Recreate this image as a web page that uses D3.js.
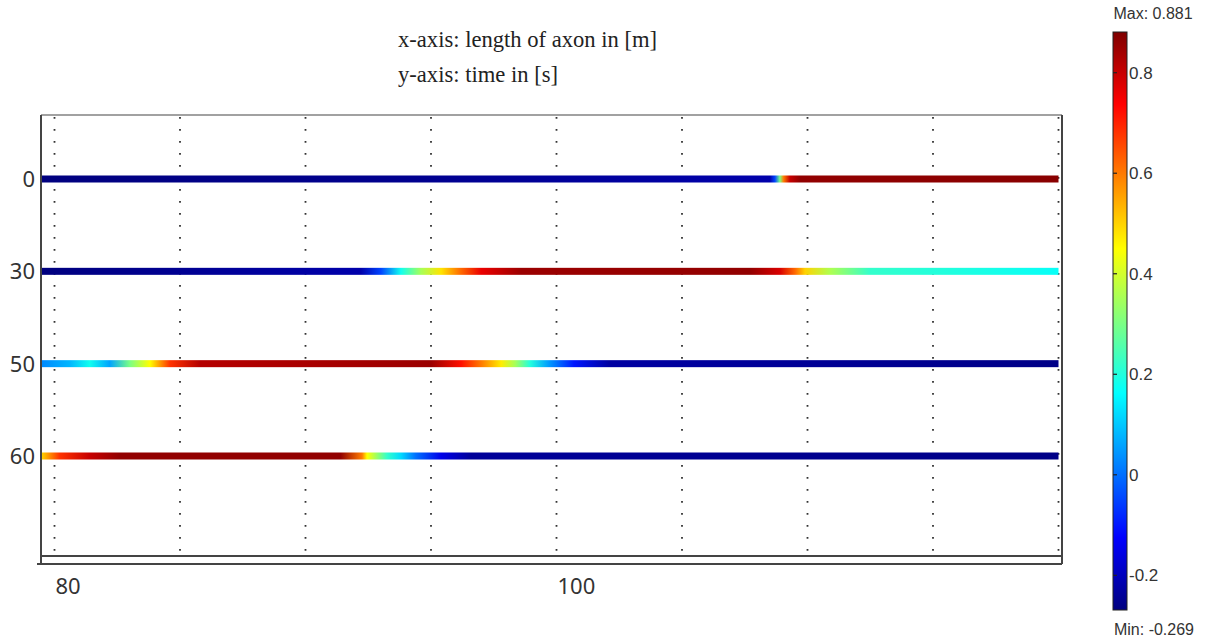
<!DOCTYPE html>
<html>
<head>
<meta charset="utf-8">
<script src="https://cdn.jsdelivr.net/npm/d3@7"></script>
<style>
  body { margin: 0; background: #fff; }
  svg { display: block; }
</style>
</head>
<body>
<div id="vis1"></div>
<script>
// data
const TIMES = [0, 30, 50, 60];
const X_TICKS = [80, 100];
const GRID_X = [80, 85, 90, 95, 100, 105, 110, 115, 120];
const CB_TICKS = [0.8, 0.6, 0.4, 0.2, 0, -0.2];
const V_MIN = -0.269;
const V_MAX = 0.881;
const TITLE_LINES = ["x-axis: length of axon in [m]", "y-axis: time in [s]"];

// [position along axon, value]
const ROW_T0 = [[79.5,-0.27],[95,-0.25],[108.5,-0.22],[108.7,-0.05],[108.9,0.3],[109.05,0.6],[109.3,0.8],[109.7,0.86],[120,0.87]];
const ROW_T30 = [[79.5,-0.27],[92.2,-0.22],[93.0,-0.05],[93.8,0.18],[94.6,0.35],[95.4,0.48],[96.2,0.62],[97.0,0.76],
                 [98.6,0.85],[107.7,0.86],[108.9,0.78],[109.5,0.62],[109.9,0.5],[110.9,0.36],[112.5,0.22],[120,0.17]];
const ROW_T50 = [[79.5,0.03],[80.6,0.08],[81.4,0.18],[82.2,0.06],[83.0,0.3],[83.8,0.45],[84.6,0.68],[85.8,0.82],
                 [95.0,0.85],[96.2,0.72],[97.0,0.6],[97.8,0.47],[98.35,0.35],[98.95,0.2],[99.7,0.05],[100.7,-0.1],
                 [102.1,-0.23],[120,-0.26]];
const ROW_T60 = [[79.5,0.5],[80.2,0.68],[81.4,0.8],[82.6,0.86],[91.4,0.86],[92.25,0.6],[92.45,0.45],[93.25,0.22],
                 [93.8,0.12],[94.4,0.0],[95.4,-0.15],[96.6,-0.24],[120,-0.26]];
const ROWS = [ROW_T0, ROW_T30, ROW_T50, ROW_T60];

const FRAME_WIDTH = 1205;
const FRAME_HEIGHT = 641;
const PLOT = {left: 41, right: 1062, top: 115, axis: 556, bottom: 564};

const FRAME1 = d3.select("#vis1")
                  .append("svg")
                    .attr("width", FRAME_WIDTH)
                    .attr("height", FRAME_HEIGHT);

// jet colour map over the value range
const jet = d3.scaleLinear()
  .domain([0, 0.125, 0.375, 0.625, 0.875, 1])
  .range(["#00007f", "#0000ff", "#00ffff", "#ffff00", "#ff0000", "#7f0000"])
  .clamp(true);
const color = v => jet((v - V_MIN) / (V_MAX - V_MIN));

const x_scale = d3.scaleLinear()
  .domain([80, 120])
  .range([54.5, 1058.5]);

const y_scale = d3.scalePoint()
  .domain(TIMES)
  .range([PLOT.top + 64, PLOT.axis - 100]);

// title
FRAME1.append("g")
  .selectAll("text")
  .data(TITLE_LINES)
  .join("text")
    .attr("x", 398)
    .attr("y", (d, i) => 47 + i * 35)
    .attr("font-family", "'Liberation Serif', 'Times New Roman', serif")
    .attr("font-size", 22.6)
    .attr("fill", "#222")
    .text(d => d);

// dotted vertical grid
FRAME1.append("g")
  .selectAll("line")
  .data(GRID_X)
  .join("line")
    .attr("x1", d => x_scale(d))
    .attr("x2", d => x_scale(d))
    .attr("y1", PLOT.top + 2)
    .attr("y2", PLOT.axis - 2)
    .attr("stroke", "#333")
    .attr("stroke-width", 1.8)
    .attr("stroke-dasharray", "1.8,10.2");

// gradients for each row
const defs = FRAME1.append("defs");
ROWS.forEach((row, i) => {
  const g = defs.append("linearGradient")
    .attr("id", "row" + i)
    .attr("gradientUnits", "userSpaceOnUse")
    .attr("x1", x_scale(row[0][0]))
    .attr("x2", x_scale(row[row.length - 1][0]))
    .attr("y1", 0).attr("y2", 0);
  const span = row[row.length - 1][0] - row[0][0];
  g.selectAll("stop")
    .data(row)
    .join("stop")
      .attr("offset", d => (d[0] - row[0][0]) / span)
      .attr("stop-color", d => color(d[1]));
});

FRAME1.append("g")
  .selectAll("rect")
  .data(ROWS)
  .join("rect")
    .attr("x", d => x_scale(d[0][0]))
    .attr("width", d => x_scale(d[d.length - 1][0]) - x_scale(d[0][0]))
    .attr("y", (d, i) => y_scale(TIMES[i]) - 3.5)
    .attr("height", 7)
    .attr("fill", (d, i) => `url(#row${i})`);

// frame
const frame = FRAME1.append("g").attr("fill", "none").attr("stroke", "#444");
frame.append("line").attr("x1", PLOT.left).attr("x2", PLOT.right).attr("y1", PLOT.top).attr("y2", PLOT.top).attr("stroke-width", 1.2);
frame.append("line").attr("x1", PLOT.left).attr("x2", PLOT.left).attr("y1", PLOT.top).attr("y2", PLOT.bottom).attr("stroke-width", 2);
frame.append("line").attr("x1", PLOT.right).attr("x2", PLOT.right).attr("y1", PLOT.top).attr("y2", PLOT.bottom).attr("stroke-width", 2);
frame.append("line").attr("x1", PLOT.left).attr("x2", PLOT.right).attr("y1", PLOT.axis).attr("y2", PLOT.axis).attr("stroke-width", 2);
frame.append("line").attr("x1", PLOT.left - 4).attr("x2", PLOT.right).attr("y1", PLOT.bottom).attr("y2", PLOT.bottom).attr("stroke-width", 2);

// y labels
FRAME1.append("g")
  .selectAll("text")
  .data(TIMES)
  .join("text")
    .attr("x", 35)
    .attr("y", d => y_scale(d))
    .attr("dy", "0.36em")
    .attr("text-anchor", "end")
    .attr("font-family", "'Noto Sans', sans-serif")
    .attr("font-size", 22)
    .attr("fill", "#333")
    .text(d => d);

// x labels
FRAME1.append("g")
  .selectAll("text")
  .data(X_TICKS)
  .join("text")
    .attr("x", d => x_scale(d) + 1)
    .attr("y", 594)
    .attr("font-family", "'Noto Sans', sans-serif")
    .attr("font-size", 22)
    .attr("fill", "#333")
    .text(d => d);

// colour bar
const cb_scale = d3.scaleLinear()
  .domain([V_MIN, V_MAX])
  .range([610, 32]);
const CB_X = 1113, CB_W = 14;

const cbGrad = defs.append("linearGradient")
  .attr("id", "cbgrad")
  .attr("x1", 0).attr("x2", 0).attr("y1", 1).attr("y2", 0);
cbGrad.selectAll("stop")
  .data(jet.domain())
  .join("stop")
    .attr("offset", d => d)
    .attr("stop-color", d => jet(d));

FRAME1.append("rect")
  .attr("x", CB_X)
  .attr("y", cb_scale(V_MAX))
  .attr("width", CB_W)
  .attr("height", cb_scale(V_MIN) - cb_scale(V_MAX))
  .attr("fill", "url(#cbgrad)")
  .attr("stroke", "#222")
  .attr("stroke-width", 1);

const cbTicks = FRAME1.append("g")
  .selectAll("g")
  .data(CB_TICKS)
  .join("g")
    .attr("transform", d => `translate(${CB_X},${cb_scale(d)})`);
cbTicks.append("line")
  .attr("x1", 0).attr("x2", 4)
  .attr("stroke", "#222").attr("stroke-width", 1.2);
cbTicks.append("text")
  .attr("x", CB_W + 2)
  .attr("dy", "0.36em")
  .attr("font-family", "'Liberation Sans', Arial, sans-serif")
  .attr("font-size", 17)
  .attr("fill", "#333")
  .text(d => d);

FRAME1.append("text")
  .attr("x", 1153).attr("y", 19)
  .attr("text-anchor", "middle")
  .attr("font-family", "'Liberation Sans', Arial, sans-serif")
  .attr("font-size", 16)
  .attr("fill", "#333")
  .text("Max: " + V_MAX);

FRAME1.append("text")
  .attr("x", 1154).attr("y", 635)
  .attr("text-anchor", "middle")
  .attr("font-family", "'Liberation Sans', Arial, sans-serif")
  .attr("font-size", 16)
  .attr("fill", "#333")
  .text("Min: " + V_MIN);
</script>
</body>
</html>
